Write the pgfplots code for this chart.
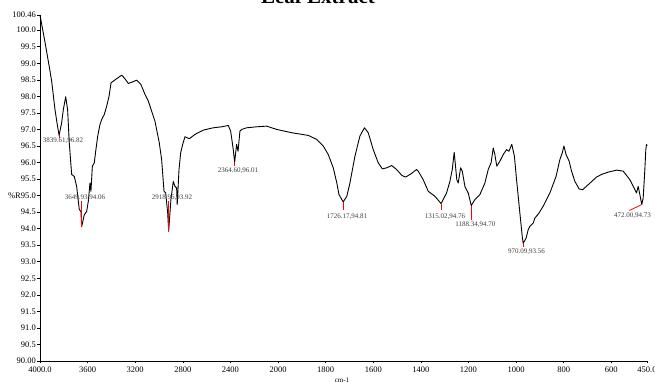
\documentclass[border=0pt]{standalone}
\usepackage{fontspec}
\setmainfont{Liberation Serif}
\usepackage{pgfplots}
\pgfplotsset{compat=1.18}

% FTIR spectrum of the leaf extract (wavenumber in cm-1, %R)
\pgfplotstableread{
wn      r
4000    100.46
3958    99.64
3916    98.77
3902    98.46
3874    97.60
3855    97.15
3839.61 96.82
3818    97.20
3804    97.60
3784    97.99
3768    97.60
3754    96.60
3734    95.64
3712    95.58
3692    95.28
3670    94.58
3656    94.52
3649.93 94.06
3628    94.42
3608    94.52
3594    94.83
3580    95.38
3572    95.13
3560    95.89
3544    95.99
3532    96.34
3515    96.80
3496    97.15
3482    97.30
3460    97.45
3440    97.70
3420    98.00
3403    98.41
3384    98.46
3350    98.55
3314    98.64
3290    98.55
3258    98.39
3220    98.44
3188    98.49
3152    98.36
3118    98.06
3090    97.86
3034    97.25
2998    96.60
2978    96.09
2958    95.13
2944    95.08
2927    94.47
2918.96 93.92
2900    94.88
2880    95.43
2866    95.28
2852    95.23
2847    94.73
2832    95.79
2818    96.29
2801    96.55
2782    96.78
2746    96.72
2698    96.85
2628    96.98
2544    97.05
2474    97.08
2418    97.12
2398    96.95
2376    96.39
2364.60 96.01
2348    96.55
2336    96.34
2320    96.95
2305    97.00
2264    97.05
2180    97.08
2096    97.10
2011    97.00
1942    96.90
1873    96.82
1838    96.70
1810    96.50
1789    96.24
1768    95.84
1753    95.38
1744    95.03
1726.17 94.81
1711    94.98
1698    95.38
1677    96.19
1656    96.80
1637    97.05
1621    96.90
1600    96.39
1579    95.99
1562    95.81
1543    95.84
1523    95.91
1502    95.79
1480    95.61
1464    95.56
1439    95.67
1418    95.79
1411    95.74
1390    95.48
1369    95.13
1341    94.98
1315.02 94.76
1292    95.08
1278    95.43
1268    95.79
1260    96.31
1249    95.48
1243    95.38
1233    95.84
1226    95.74
1215    95.28
1201    95.08
1188.34 94.70
1173    94.88
1152    95.03
1131    95.38
1117    95.79
1105    95.99
1096    96.44
1089    96.24
1081    95.89
1068    96.04
1054    96.24
1040    96.39
1030    96.34
1018    96.55
1007    96.19
998     95.48
984     94.47
974     93.76
970.09  93.56
958     93.71
949     93.97
942     94.07
928     94.17
921     94.32
904     94.47
886     94.68
858     95.08
832     95.58
816     96.09
806     96.29
799     96.50
790     96.24
777     96.04
767     95.74
753     95.43
735     95.20
720     95.18
697     95.33
662     95.56
641     95.64
613     95.71
578     95.77
550     95.74
522     95.48
501     95.18
494     95.08
487     95.28
480     95.03
472.00  94.73
466     94.93
459     95.79
455     96.39
452     96.55
450     96.50
}\spectrum

\begin{document}
\begin{tikzpicture}
\begin{axis}[
  name=ax,
  scale only axis,
  width=607pt, height=346pt,
  x dir=reverse,
  % the wavenumber scale is compressed by half above 2000 cm-1
  x coord trafo/.code={\pgfmathparse{min(#1,2000)+0.5*max(#1-2000,0)}},
  x coord inv trafo/.code={\pgfmathparse{min(#1,2000)+2*max(#1-2000,0)}},
  xmin=450, xmax=4000,
  ymin=90, ymax=100.46,
  axis lines*=left,
  axis line style={-, line width=0.7pt},
  tick align=outside,
  major tick length=2.5pt,
  tick style={black, line width=0.6pt},
  xtick={4000,3600,3200,2800,2400,2000,1800,1600,1400,1200,1000,800,600,450},
  xticklabels={4000.0,3600,3200,2800,2400,2000,1800,1600,1400,1200,1000,800,600,450.0},
  ytick={90,90.5,91,91.5,92,92.5,93,93.5,94,94.5,95,95.5,96,96.5,97,97.5,98,98.5,99,99.5,100,100.46},
  yticklabels={90.00,90.5,91.0,91.5,92.0,92.5,93.0,93.5,94.0,94.5,\%R95.0,95.5,96.0,96.5,97.0,97.5,98.0,98.5,99.0,99.5,100.0,100.46},
  ticklabel style={font=\fontsize{8.5}{10}\selectfont, text=black},
  yticklabel style={inner sep=0pt, xshift=-1.5pt},
  xticklabel style={inner sep=0pt, yshift=-3pt},
  clip=false,
]
\addplot[black, line width=0.9pt, line join=round] table[x=wn, y=r] {\spectrum};

% peak markers
\addplot[red, line width=0.8pt] coordinates {(3839.61,96.82) (3839.61,96.74)};
\addplot[red, line width=0.8pt] coordinates {(3649.93,94.06) (3649.93,94.85)};
\addplot[red, line width=0.8pt] coordinates {(2918.96,93.92) (2918.96,94.85)};
\addplot[red, line width=0.8pt] coordinates {(2364.60,96.01) (2364.60,95.89)};
\addplot[red, line width=0.8pt] coordinates {(1726.17,94.81) (1726.17,94.56)};
\addplot[red, line width=0.8pt] coordinates {(1315.02,94.76) (1315.02,94.56)};
\addplot[red, line width=0.8pt] coordinates {(1188.34,94.70) (1188.34,94.27)};
\addplot[red, line width=0.8pt] coordinates {(970.09,93.56) (970.09,93.44)};
\addplot[red, line width=0.8pt] coordinates {(472.00,94.73) (524,94.55)};

\begin{scope}[every node/.style={font=\fontsize{7}{8}\selectfont, text=black!75, inner sep=0pt}]
\node at (axis cs:3806.7,96.67) {3839.61,96.82};
\node at (axis cs:3621.9,94.94) {3649.93,94.06};
\node at (axis cs:2890.8,94.94) {2918.96,93.92};
\node at (axis cs:2336.2,95.76) {2364.60,96.01};
\node at (axis cs:1710.2,94.37) {1726.17,94.81};
\node at (axis cs:1298.6,94.37) {1315.02,94.76};
\node at (axis cs:1170.5,94.12) {1188.34,94.70};
\node at (axis cs:956.3,93.31) {970.09,93.56};
\node at (axis cs:511.1,94.39) {472.00,94.73};
\end{scope}
\end{axis}

\node[anchor=base, font=\bfseries\fontsize{21}{21}\selectfont]
  at ([xshift=278pt, yshift=11pt]ax.north west) {Leaf Extract};
\node[anchor=base, font=\fontsize{7}{8}\selectfont]
  at ([xshift=302pt, yshift=-21.5pt]ax.south west) {cm-1};

\pgfresetboundingbox
\path[use as bounding box] ([xshift=-40pt, yshift=-21pt]ax.south west)
  rectangle ([xshift=8pt, yshift=15pt]ax.north east);
\end{tikzpicture}
\end{document}
